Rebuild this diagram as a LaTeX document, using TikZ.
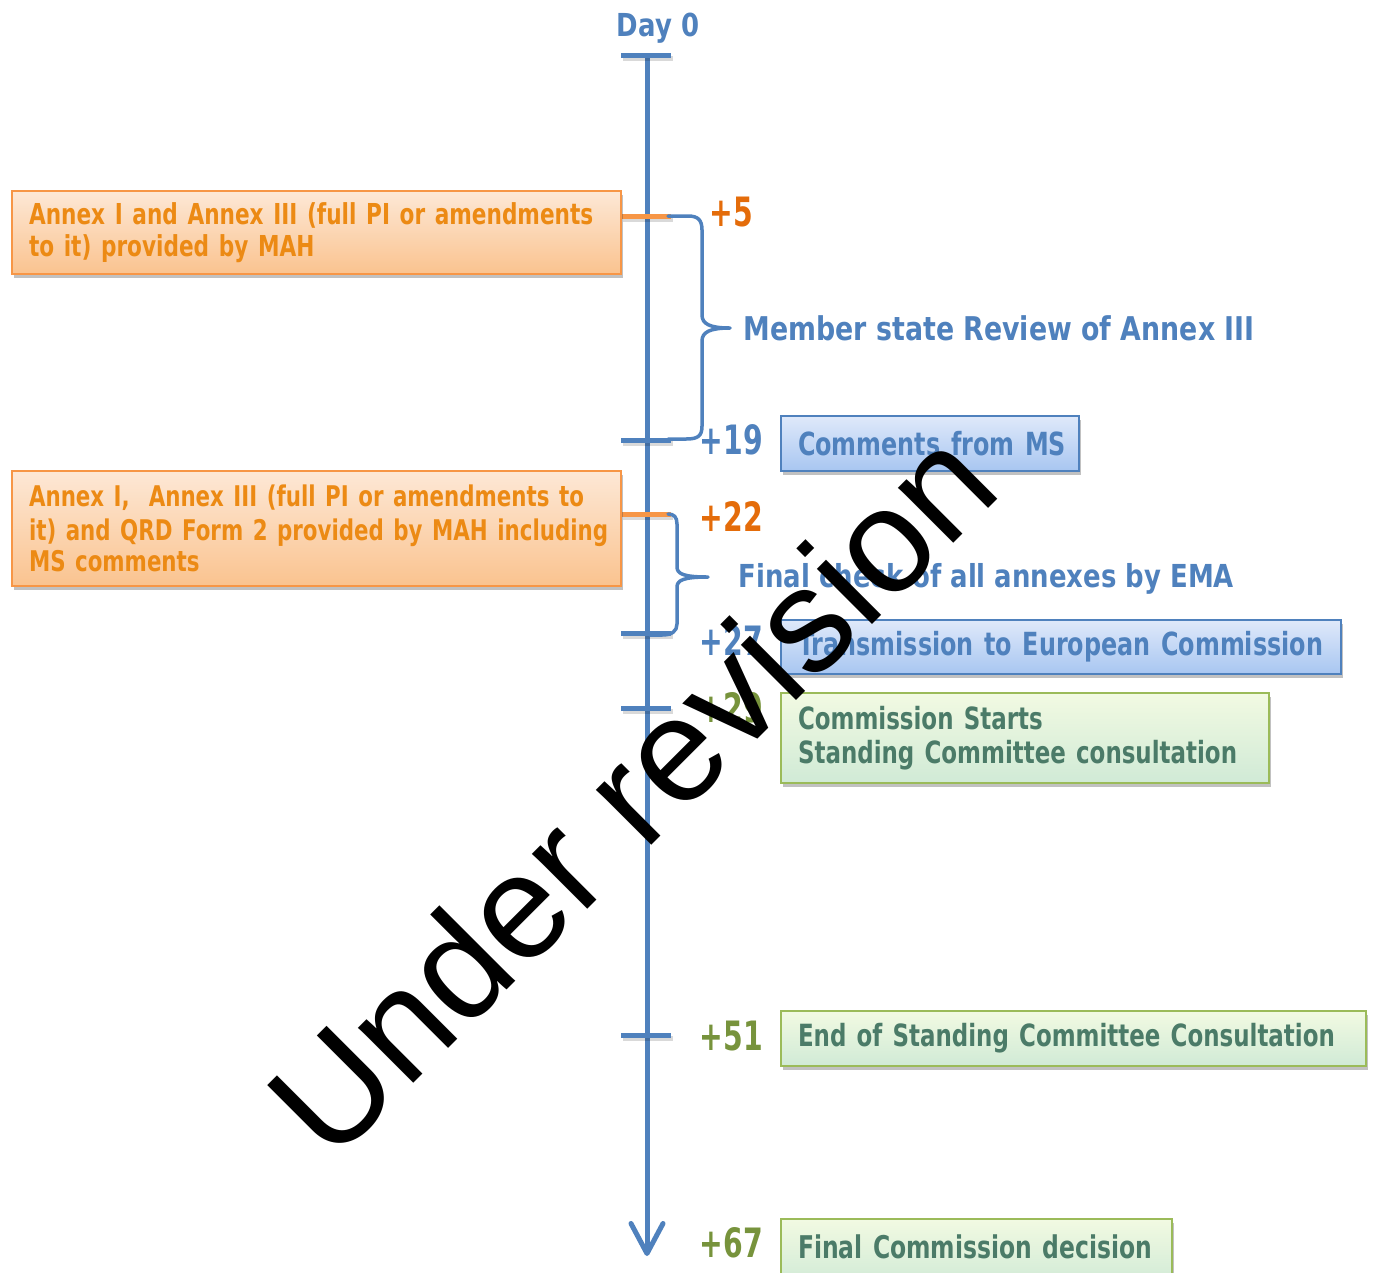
\documentclass[tikz,border=0pt]{standalone}
\usepackage{fontspec}
\setmainfont{DejaVu Sans}[FakeStretch=0.82]
\newfontfamily\boxfont{DejaVu Sans}[FakeStretch=0.75]
\newfontfamily\numfont{DejaVu Sans}[FakeStretch=0.7]
\newfontfamily\wmfont{Liberation Sans}
\usetikzlibrary{shadows,arrows.meta}
\definecolor{axisblue}{HTML}{4F81BD}
\definecolor{bluetext}{HTML}{4F81BD}
\definecolor{orlabel}{HTML}{E46C0A}
\definecolor{ortext}{HTML}{EC8A14}
\definecolor{orborder}{HTML}{F79646}
\definecolor{ortop}{HTML}{FDE8D6}
\definecolor{orbot}{HTML}{FAC38F}
\definecolor{bltop}{HTML}{DFE9FA}
\definecolor{blbot}{HTML}{A8C6F1}
\definecolor{grlabel}{HTML}{77933C}
\definecolor{grtext}{HTML}{4B7B68}
\definecolor{grborder}{HTML}{9BBB59}
\definecolor{grtop}{HTML}{F2FAE2}
\definecolor{grmid}{HTML}{E6F7C4}
\definecolor{grbot}{HTML}{D0EAD6}
\tikzset{
  axisline/.style={axisblue, line width=0.05cm},
  tickmark/.style={line width=0.05cm},
  bracketline/.style={axisblue, line width=0.035cm, line join=round, line cap=round},
  numlabel/.style={anchor=west, inner sep=0pt, font=\numfont\bfseries\fontsize{11.5}{13}\selectfont},
  headtext/.style={anchor=west, inner sep=0pt, text=bluetext},
  boxshadow/.style={drop shadow={shadow xshift=0.02cm, shadow yshift=-0.035cm, opacity=0.35, fill=black!70}},
  orbox/.style={boxshadow, draw=orborder, line width=0.02cm, top color=ortop, bottom color=orbot,
     text=ortext, anchor=north west, align=left, inner xsep=0.17cm, inner ysep=0pt,
     font=\boxfont\bfseries\fontsize{8.2}{8.9}\selectfont},
  blbox/.style={boxshadow, draw=axisblue, line width=0.02cm, top color=bltop, bottom color=blbot,
     text=bluetext, anchor=north west, align=left, inner xsep=0.17cm, inner ysep=0pt,
     font=\boxfont\bfseries\fontsize{9.05}{10}\selectfont},
  grbox/.style={boxshadow, draw=grborder, line width=0.02cm, top color=grtop, middle color=grmid, bottom color=grbot,
     text=grtext, anchor=north west, align=left, inner xsep=0.17cm, inner ysep=0pt,
     font=\boxfont\bfseries\fontsize{8.7}{9.7}\selectfont},
}
\begin{document}
\begin{tikzpicture}[x=0.01cm, y=-0.01cm]
\useasboundingbox (0,0) rectangle (1376,1272);
\clip (0,0) rectangle (1376,1272);

% axis
\coordinate (axtop) at (647,55);
\coordinate (axend) at (647,1256);
\draw[axisline, -{Straight Barb[length=0.3cm, width=0.32cm, round]}] (axtop) -- (axend);

% ticks (with soft shadow)
\foreach \yy/\cc in {55/axisblue, 216/orborder, 440/axisblue, 514/orborder, 633/axisblue, 708/axisblue, 1035/axisblue} {
  \draw[tickmark, black, opacity=0.15] (623,\yy+3) -- (673,\yy+3);
  \draw[tickmark, \cc] (621,\yy) -- (671,\yy);
}

% brackets
\draw[bracketline] (668,216) -- (688,216) .. controls (698,216) and (702,220) .. (702,230)
  -- (702,315) .. controls (702,324) and (710,328) .. (730,328)
  .. controls (710,328) and (702,332) .. (702,341)
  -- (702,426) .. controls (702,436) and (698,439) .. (686,439) -- (668,439);
\draw[bracketline] (668,514) .. controls (674,514) and (677,517) .. (677,524)
  -- (677,567) .. controls (677,574) and (684,577) .. (708,577)
  .. controls (684,577) and (677,580) .. (677,587)
  -- (677,624) .. controls (677,631) and (672,635) .. (662,635) -- (650,635);

% title
\node[anchor=center, inner sep=0pt, text=bluetext, font=\bfseries\fontsize{9.0}{11}\selectfont] (day0) at (658,28) {Day 0};

% day labels
\node[numlabel, text=orlabel] (d5) at (709,212) {+5};
\node[numlabel, text=bluetext] (d19) at (699,440) {+19};
\node[numlabel, text=orlabel] (d22) at (699,516) {+22};
\node[numlabel, text=bluetext] (d27) at (699,640) {+27};
\node[numlabel, text=grlabel] (d29) at (699,708) {+29};
\node[numlabel, text=grlabel] (d51) at (699,1036) {+51};
\node[numlabel, text=grlabel] (d67) at (699,1243) {+67};

% bracket texts
\node[headtext, font=\bfseries\fontsize{9.3}{11}\selectfont] (msreview) at (743,328) {Member state Review of Annex III};
\node[headtext, font=\bfseries\fontsize{9.0}{11}\selectfont] (finalcheck) at (738,579) {Final check of all annexes by EMA};

% orange boxes
\node[orbox, text width=5.75cm, minimum height=0.83cm] (mah1) at (11,190)
  {\mbox{Annex I and Annex III (full PI or amendments}\\\mbox{to it) provided by MAH}};
\node[orbox, text width=5.75cm, minimum height=1.15cm, font=\boxfont\bfseries\fontsize{8.1}{8.9}\selectfont] (mah2) at (11,470)
  {\raisebox{0.02cm}{\mbox{Annex I,\ \ Annex III (full PI or amendments to}}\\\mbox{it) and QRD Form 2 provided by MAH including}\\\mbox{MS comments}};

% blue boxes
\node[blbox, text width=2.64cm, minimum height=0.55cm] (comments) at (780,415) {\mbox{Comments from MS}};
\node[blbox, text width=5.26cm, minimum height=0.54cm] (transmission) at (780,619) {\mbox{Transmission to European Commission}};

% green boxes
\node[grbox, text width=4.54cm, minimum height=0.90cm] (start) at (780,692)
  {\mbox{Commission Starts}\\\mbox{Standing Committee consultation}\rule[-0.06cm]{0pt}{0pt}};
\node[grbox, text width=5.51cm, minimum height=0.55cm] (endsc) at (780,1010)
  {\mbox{End of Standing Committee Consultation}};
\node[grbox, text width=3.57cm, minimum height=0.66cm, font=\boxfont\bfseries\fontsize{8.9}{10}\selectfont] (decision) at (780,1218)
  {\raisebox{0.1cm}{Final Commission decision}};

% watermark
\node[rotate=45, anchor=base, inner sep=0pt, text=black, font=\wmfont\mdseries\fontsize{42}{50}\selectfont] (wm) at (668,829) {Under revision};
\end{tikzpicture}
\end{document}
